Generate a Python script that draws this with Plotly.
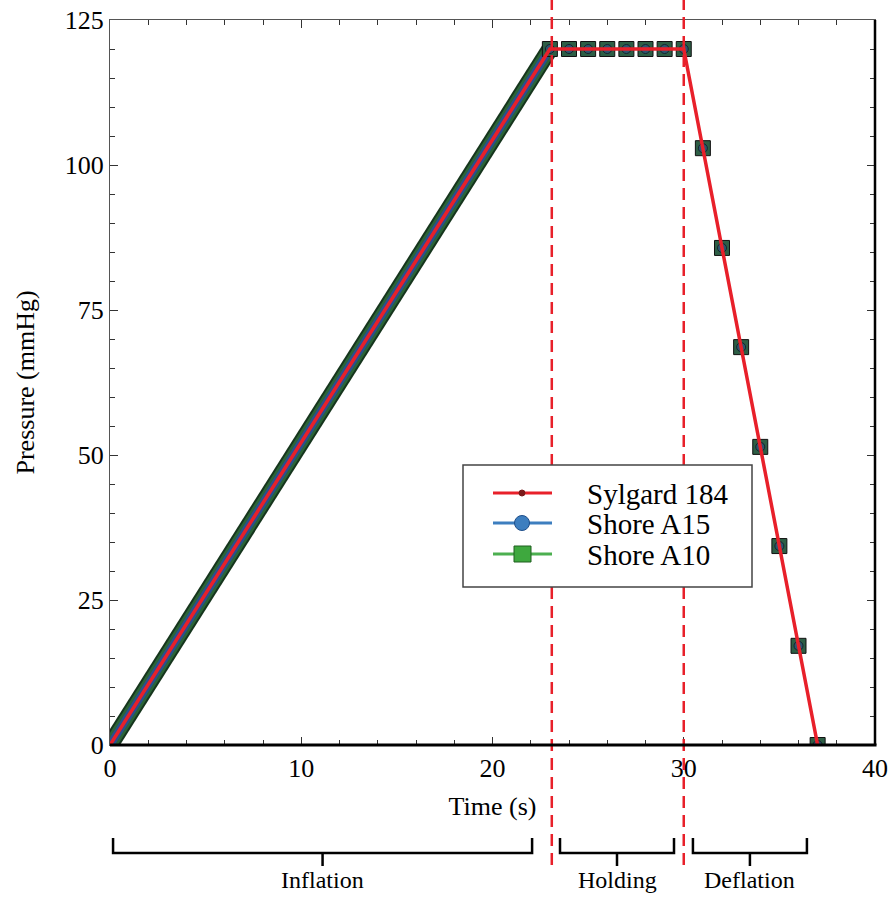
import plotly.graph_objects as go

# ---------------- data ----------------
# Inflation ramp (dense measured band, end points)
infl_time = [0, 23]
infl_pressure = [0, 120]

# Sampled points during holding and deflation (Shore A10 / Shore A15)
sample_time = [23, 24, 25, 26, 27, 28, 29, 30, 31, 32, 33, 34, 35, 36, 37]
sample_pressure = [120, 120, 120, 120, 120, 120, 120, 120,
                   102.9, 85.7, 68.6, 51.4, 34.3, 17.1, 0]

# Sylgard 184 pressure profile
sylgard_time = [0, 23, 30, 37]
sylgard_pressure = [0, 120, 120, 0]

# Phase boundaries and labels
phase_boundaries = [23.1, 30]
phase_labels = ["Inflation", "Holding", "Deflation"]
phase_start = [0.16, 23.53, 30.48]
phase_end = [22.07, 29.49, 36.44]

series_names = ["Sylgard 184", "Shore A15", "Shore A10"]

x_ticks = [0, 10, 20, 30, 40]
y_ticks = [0, 25, 50, 75, 100, 125]

FONT = "Liberation Serif, Times New Roman, serif"
RED = "#e8202a"
BLUE = "#3d7ebf"
GREEN = "#3ea83e"

W, H = 892, 899
ML, MR, MT, MB = 110, 17, 20, 154
PW, PH = W - ML - MR, H - MT - MB


def px(xp):
    return (xp - ML) / PW


def py(yp):
    return (H - MB - yp) / PH


fig = go.Figure()

# Shore A10 band (inflation)
fig.add_trace(go.Scatter(x=infl_time, y=infl_pressure, mode="lines", name=series_names[2],
                         line=dict(color="#16351d", width=17), showlegend=False, hoverinfo="skip"))
fig.add_trace(go.Scatter(x=infl_time, y=infl_pressure, mode="lines", name=series_names[2],
                         line=dict(color="#2b6437", width=13), showlegend=False, hoverinfo="skip"))
# Shore A15 band (inflation)
fig.add_trace(go.Scatter(x=infl_time, y=infl_pressure, mode="lines", name=series_names[1],
                         line=dict(color="#2a4f8e", width=8), showlegend=False, hoverinfo="skip"))

# Shore A10 markers
fig.add_trace(go.Scatter(x=sample_time, y=sample_pressure, mode="markers", name=series_names[2],
                         marker=dict(symbol="square", size=15, color="#2d5e45",
                                     line=dict(color="#111111", width=1)),
                         showlegend=False))
# Shore A15 markers
fig.add_trace(go.Scatter(x=sample_time, y=sample_pressure, mode="markers", name=series_names[1],
                         marker=dict(symbol="circle", size=9, color="#2c5670",
                                     line=dict(color="#15242e", width=1)),
                         showlegend=False))

# Sylgard 184 line
fig.add_trace(go.Scatter(x=sylgard_time, y=sylgard_pressure, mode="lines", name=series_names[0],
                         line=dict(color=RED, width=3.5), showlegend=False))

shapes = []
annotations = []
# dashed phase boundaries
for xb in phase_boundaries:
    shapes.append(dict(type="line", xref="x", yref="paper", x0=xb, x1=xb,
                       y0=py(865), y1=py(0), layer="above",
                       line=dict(color=RED, width=2.5, dash="12px,7px")))

# legend box (drawn above the dashed lines)
shapes.append(dict(type="rect", xref="paper", yref="paper",
                   x0=px(463), x1=px(752), y0=py(587), y1=py(465),
                   fillcolor="white", layer="above",
                   line=dict(color="#444444", width=1.5)))
legend_rows = [493, 523, 554]
legend_line_colors = [RED, BLUE, "#4caf50"]
for name, yr, lc in zip(series_names, legend_rows, legend_line_colors):
    shapes.append(dict(type="line", xref="paper", yref="paper",
                       x0=px(493), x1=px(552), y0=py(yr), y1=py(yr), layer="above",
                       line=dict(color=lc, width=3)))
    annotations.append(dict(text=name, x=px(585), y=py(yr + 1), xref="paper", yref="paper",
                            xanchor="left", yanchor="middle", showarrow=False,
                            font=dict(family=FONT, size=29, color="black")))
# legend symbols
shapes.append(dict(type="circle", xref="paper", yref="paper", layer="above",
                   x0=px(519), x1=px(525), y0=py(legend_rows[0] + 3), y1=py(legend_rows[0] - 3),
                   fillcolor="#7a1a1a", line=dict(color="#7a1a1a", width=1)))
shapes.append(dict(type="circle", xref="paper", yref="paper", layer="above",
                   x0=px(514.5), x1=px(529.5), y0=py(legend_rows[1] + 7.5), y1=py(legend_rows[1] - 7.5),
                   fillcolor=BLUE, line=dict(color="#1e4e8a", width=1)))
shapes.append(dict(type="rect", xref="paper", yref="paper", layer="above",
                   x0=px(514), x1=px(531), y0=py(legend_rows[2] + 8), y1=py(legend_rows[2] - 8),
                   fillcolor=GREEN, line=dict(color="#1f5f1f", width=1)))

# thicker bottom and right frame
shapes.append(dict(type="line", xref="paper", yref="paper", x0=0, x1=1.002, y0=0, y1=0,
                   layer="above", line=dict(color="black", width=3)))
shapes.append(dict(type="line", xref="paper", yref="paper", x0=1, x1=1, y0=0, y1=1,
                   layer="above", line=dict(color="black", width=2.5)))

# braces
y_top, y_mid, y_bot = py(838), py(853), py(866)
for lab, xs, xe in zip(phase_labels, phase_start, phase_end):
    xc = (xs + xe) / 2
    path = (f"M {xs},{y_top} L {xs},{y_mid} L {xe},{y_mid} L {xe},{y_top} "
            f"M {xc},{y_mid} L {xc},{y_bot}")
    shapes.append(dict(type="path", xref="x", yref="paper", path=path,
                       line=dict(color="black", width=2.5)))
    annotations.append(dict(text=lab, x=xc, y=py(880), xref="x", yref="paper",
                            showarrow=False, yanchor="middle", borderpad=0,
                            font=dict(family=FONT, size=24, color="black")))

# y-axis title
annotations.append(dict(text="Pressure (mmHg)", x=px(25), y=0.5, xref="paper", yref="paper",
                        textangle=-90, showarrow=False, xanchor="center", yanchor="middle",
                        font=dict(family=FONT, size=26, color="black")))

axis_common = dict(
    showline=True, linecolor="#555555", linewidth=1, mirror="ticks",
    ticks="inside", ticklen=8, tickwidth=1, tickcolor="#333333",
    showgrid=False, zeroline=False, automargin=False,
    tickfont=dict(family=FONT, size=26, color="black"),
)

fig.update_layout(
    width=W, height=H,
    margin=dict(l=ML, r=MR, t=MT, b=MB, autoexpand=False),
    paper_bgcolor="white", plot_bgcolor="white",
    font=dict(family=FONT, color="black"),
    showlegend=False,
    xaxis=dict(range=[0, 40], tickvals=x_ticks,
               minor=dict(ticks="inside", dtick=2, ticklen=5, tickcolor="#333333"),
               title=dict(text="Time (s)", font=dict(family=FONT, size=26), standoff=14),
               **axis_common),
    yaxis=dict(range=[0, 125], tickvals=y_ticks,
               minor=dict(ticks="inside", dtick=5, ticklen=5, tickcolor="#333333"),
               **axis_common),
    shapes=shapes,
    annotations=annotations,
)

fig.write_html("out.html")
